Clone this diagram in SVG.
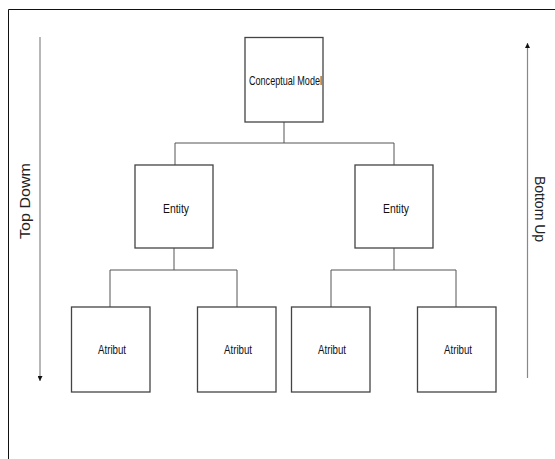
<svg xmlns="http://www.w3.org/2000/svg" width="555" height="459" viewBox="0 0 555 459">
<defs>
<style>
.box{fill:#fff;stroke:#444;stroke-width:1.3}
.conn{fill:none;stroke:#555;stroke-width:1}
.lbl{font-family:"Liberation Sans",Arial,sans-serif;font-size:13.5px;fill:#111;text-anchor:middle}
.side{font-family:"Liberation Sans",Arial,sans-serif;font-size:14px;fill:#222;text-anchor:middle}
.arr{stroke:#888;stroke-width:1.2;fill:none}
</style>
<marker id="ah" viewBox="0 0 10 10" refX="10" refY="5" markerWidth="10" markerHeight="5" markerUnits="userSpaceOnUse" orient="auto">
<path d="M0,0 L10,5 L0,10 z" fill="#111"/>
</marker>
</defs>
<rect width="555" height="459" fill="#fff"/>
<path d="M8.5,459 V9.5 H555" fill="none" stroke="#111" stroke-width="1"/>
<g id="connectors">
<path class="conn" d="M284,122 V143 M175,165 V143 H394 V165"/>
<path class="conn" d="M174,248 V270 M110,307 V270 H237 V307"/>
<path class="conn" d="M394,248 V270 M331,307 V270 H456 V307"/>
</g>
<g id="topdown">
<line class="arr" x1="40" y1="37" x2="40" y2="381" marker-end="url(#ah)"/>
<text class="side" transform="translate(30,201) rotate(-90)" textLength="76" lengthAdjust="spacingAndGlyphs">Top Dowm</text>
</g>
<g id="bottomup">
<line class="arr" x1="527.5" y1="378" x2="527.5" y2="43" marker-end="url(#ah)"/>
<text class="side" transform="translate(535,209) rotate(90)">Bottom Up</text>
</g>
<g id="conceptual">
<rect class="box" x="245" y="37.5" width="78" height="84.5"/>
<text class="lbl" x="285.5" y="85" textLength="73" lengthAdjust="spacingAndGlyphs">Conceptual Model</text>
</g>
<g id="entity1">
<rect class="box" x="135" y="165" width="78" height="83"/>
<text class="lbl" x="176" y="213" textLength="26" lengthAdjust="spacingAndGlyphs">Entity</text>
</g>
<g id="entity2">
<rect class="box" x="355" y="165" width="78" height="83"/>
<text class="lbl" x="396" y="213" textLength="26" lengthAdjust="spacingAndGlyphs">Entity</text>
</g>
<g id="attr1">
<rect class="box" x="71.5" y="307" width="78.5" height="85"/>
<text class="lbl" x="112" y="354" textLength="28" lengthAdjust="spacingAndGlyphs">Atribut</text>
</g>
<g id="attr2">
<rect class="box" x="197.5" y="307" width="78.5" height="85"/>
<text class="lbl" x="238" y="354" textLength="28" lengthAdjust="spacingAndGlyphs">Atribut</text>
</g>
<g id="attr3">
<rect class="box" x="291.5" y="307" width="78.5" height="85"/>
<text class="lbl" x="332" y="354" textLength="28" lengthAdjust="spacingAndGlyphs">Atribut</text>
</g>
<g id="attr4">
<rect class="box" x="417.5" y="307" width="78.5" height="85"/>
<text class="lbl" x="458" y="354" textLength="28" lengthAdjust="spacingAndGlyphs">Atribut</text>
</g>
</svg>
